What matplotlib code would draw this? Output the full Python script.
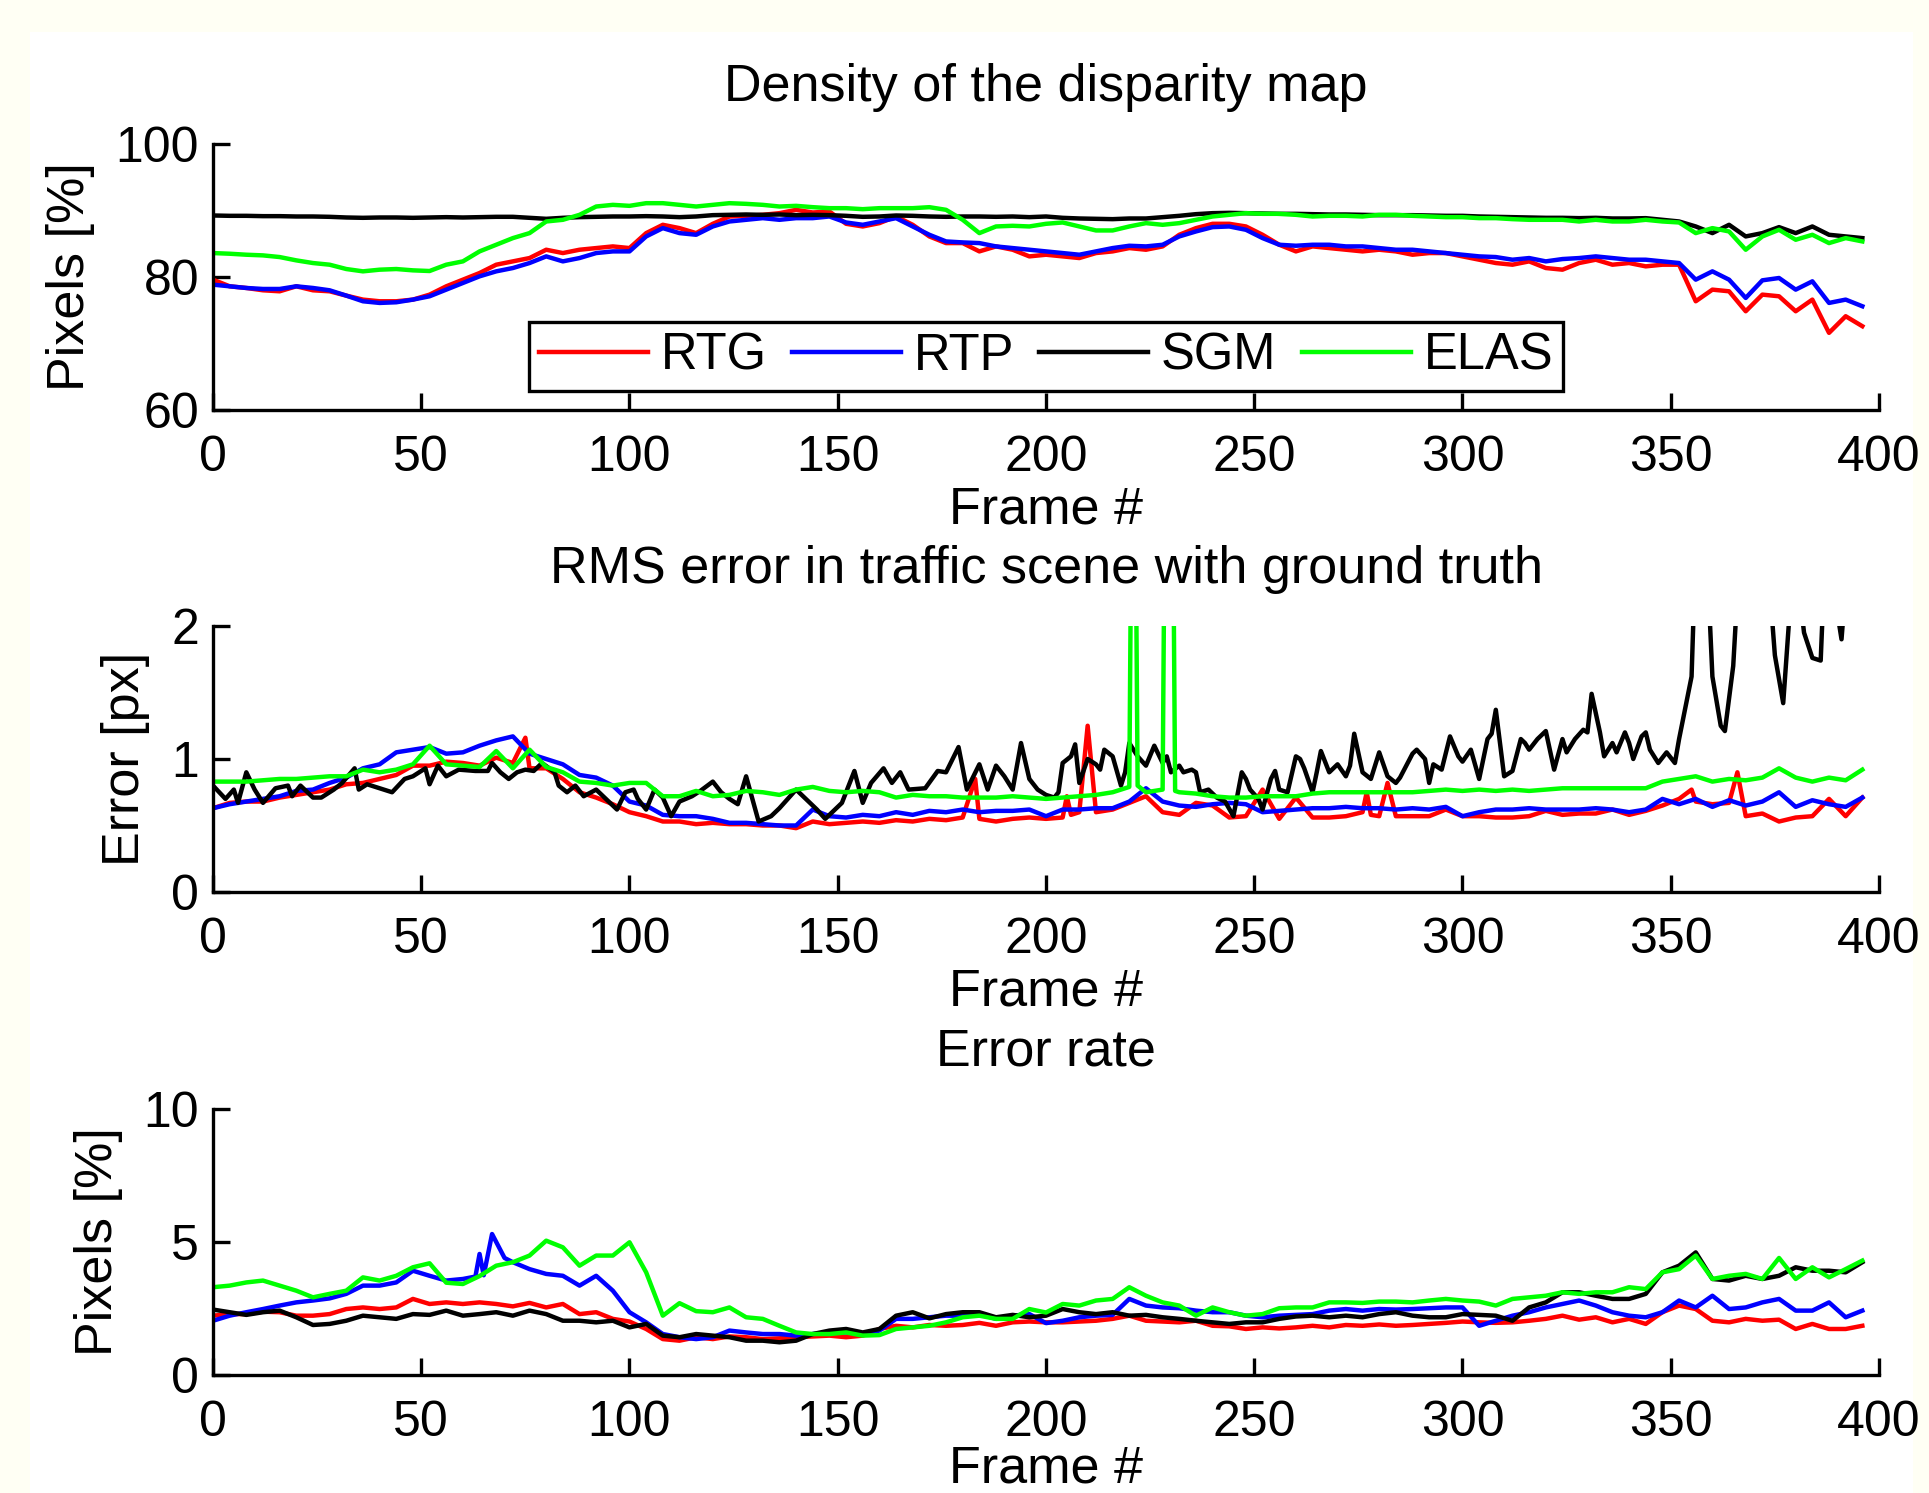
import numpy as np
import matplotlib
matplotlib.use('Agg')
import matplotlib.pyplot as plt
from matplotlib.patches import Rectangle

plt.rcParams['font.family'] = ['Liberation Sans', 'DejaVu Sans']

# ---------------- data ----------------
series_names = ['RTG', 'RTP', 'SGM', 'ELAS']
series_colors = ['#ff0000', '#0000ff', '#000000', '#00ff00']
xticks = [0, 50, 100, 150, 200, 250, 300, 350, 400]

frames = list(range(0, 397, 4))

# Panel 1: density of the disparity map [%]
dens_rtg = [79.6, 78.6, 78.35, 78.0, 77.85, 78.6, 78.0, 77.85, 77.2, 76.6,
            76.35, 76.35, 76.6, 77.35, 78.6, 79.6, 80.6, 81.85, 82.35, 82.85,
            84.1, 83.6, 84.1, 84.35, 84.6, 84.35, 86.6, 87.85, 87.35, 86.6,
            88.0, 89.1, 89.2, 89.35, 89.6, 90.1, 89.7, 89.85, 88.0, 87.6,
            88.1, 89.1, 87.85, 86.1, 85.1, 85.1, 83.85, 84.6, 84.1, 83.1,
            83.35, 83.1, 82.85, 83.6, 83.85, 84.35, 84.1, 84.6, 86.35, 87.35,
            88.0, 88.0, 87.6, 86.35, 84.85, 83.85, 84.6, 84.35, 84.1, 83.85,
            84.1, 83.85, 83.35, 83.6, 83.6, 83.1, 82.6, 82.1, 81.85, 82.35,
            81.35, 81.1, 82.1, 82.6, 81.85, 82.1, 81.6, 81.85, 81.85, 76.35,
            78.1, 77.85, 74.85, 77.35, 77.1, 74.85, 76.6, 71.6, 74.1, 72.6]
dens_rtp = [78.85, 78.6, 78.35, 78.2, 78.2, 78.6, 78.35, 78.0, 77.2, 76.35,
            76.1, 76.2, 76.6, 77.1, 78.1, 79.1, 80.1, 80.85, 81.35, 82.1,
            83.1, 82.35, 82.85, 83.6, 83.85, 83.85, 86.1, 87.35, 86.6, 86.35,
            87.6, 88.35, 88.6, 88.85, 88.6, 88.85, 88.85, 89.1, 88.2, 87.85,
            88.35, 88.85, 87.6, 86.35, 85.35, 85.2, 85.1, 84.6, 84.35, 84.1,
            83.85, 83.6, 83.35, 83.85, 84.35, 84.7, 84.6, 84.85, 86.1, 86.85,
            87.5, 87.6, 87.1, 85.85, 84.85, 84.7, 84.85, 84.85, 84.6, 84.6,
            84.35, 84.1, 84.1, 83.85, 83.6, 83.35, 83.1, 83.0, 82.6, 82.85,
            82.35, 82.7, 82.85, 83.1, 82.85, 82.6, 82.6, 82.35, 82.1, 79.6,
            80.85, 79.6, 76.85, 79.5, 79.85, 78.1, 79.35, 76.1, 76.6, 75.6]
dens_sgm = [89.25, 89.2, 89.2, 89.15, 89.15, 89.1, 89.1, 89.05, 88.95, 88.9,
            88.95, 88.95, 88.9, 88.95, 89.0, 88.95, 89.0, 89.05, 89.05, 88.9,
            88.75, 88.9, 89.0, 89.05, 89.1, 89.1, 89.15, 89.1, 89.0, 89.1,
            89.3, 89.35, 89.4, 89.35, 89.4, 89.3, 89.35, 89.3, 89.2, 89.05,
            89.1, 89.25, 89.2, 89.1, 89.05, 89.1, 89.1, 89.05, 89.1, 89.0,
            89.1, 88.9, 88.8, 88.75, 88.7, 88.8, 88.8, 89.0, 89.2, 89.45,
            89.6, 89.65, 89.6, 89.55, 89.5, 89.5, 89.45, 89.4, 89.4, 89.35,
            89.3, 89.3, 89.3, 89.25, 89.2, 89.2, 89.1, 89.05, 89.0, 88.95,
            88.9, 88.9, 88.85, 88.9, 88.8, 88.8, 88.85, 88.6, 88.35, 87.6,
            86.6, 87.85, 86.1, 86.6, 87.5, 86.6, 87.6, 86.35, 86.1, 85.85]
dens_elas = [83.6, 83.5, 83.35, 83.25, 83.0, 82.5, 82.1, 81.85, 81.2, 80.85,
             81.1, 81.2, 81.0, 80.9, 81.85, 82.35, 83.85, 84.85, 85.85, 86.6,
             88.35, 88.6, 89.35, 90.6, 90.85, 90.7, 91.1, 91.1, 90.85, 90.6,
             90.85, 91.1, 91.0, 90.85, 90.6, 90.7, 90.5, 90.35, 90.35, 90.2,
             90.35, 90.35, 90.35, 90.5, 90.1, 88.6, 86.6, 87.6, 87.7, 87.6,
             88.0, 88.2, 87.6, 87.0, 87.0, 87.6, 88.1, 87.85, 88.1, 88.6,
             89.1, 89.35, 89.6, 89.5, 89.5, 89.35, 89.1, 89.2, 89.2, 89.1,
             89.35, 89.35, 89.2, 89.1, 89.0, 89.0, 88.85, 88.85, 88.7, 88.6,
             88.6, 88.6, 88.35, 88.6, 88.35, 88.35, 88.6, 88.35, 88.2, 86.6,
             87.35, 86.85, 84.1, 86.1, 87.1, 85.6, 86.35, 85.1, 85.85, 85.35]

# Panel 2: RMS error [px]
rms_rtg_frames = [0, 4, 8, 12, 16, 20, 24, 28, 32, 36, 40, 44, 48, 52, 56, 60, 64, 68, 72,
                  75, 76, 80, 84, 88, 92, 96, 100, 104, 108, 112, 116, 120, 124, 128, 132,
                  136, 140, 144, 148, 152, 156, 160, 164, 168, 172, 176, 180, 183, 184, 188,
                  192, 196, 200, 204, 205, 206, 208, 210, 212, 216, 220, 224, 228, 232, 236,
                  240, 244, 248, 252, 256, 260, 264, 268, 272, 276, 277, 278, 280, 282, 284,
                  288, 292, 296, 300, 304, 308, 312, 316, 320, 324, 328, 332, 336, 340, 344,
                  348, 352, 355, 356, 360, 364, 366, 368, 372, 376, 380, 384, 388, 392, 396]
rms_rtg = [0.63, 0.67, 0.68, 0.68, 0.71, 0.73, 0.75, 0.77, 0.81, 0.82, 0.85, 0.88, 0.95, 0.95,
           0.98, 0.97, 0.95, 1.01, 0.97,
           1.16, 0.93, 0.93, 0.85, 0.75, 0.71, 0.66, 0.60, 0.57, 0.53, 0.53, 0.51, 0.52, 0.51,
           0.51, 0.50, 0.50, 0.48, 0.53, 0.51, 0.52, 0.53, 0.52, 0.54, 0.53, 0.55, 0.54, 0.56,
           0.85, 0.55, 0.53, 0.55, 0.56, 0.55, 0.56, 0.72, 0.58, 0.60, 1.25, 0.60, 0.62, 0.67,
           0.72, 0.60, 0.58, 0.67, 0.65, 0.56, 0.57, 0.77, 0.55, 0.71, 0.56, 0.56, 0.57, 0.60,
           0.75, 0.58, 0.57, 0.82, 0.57, 0.57, 0.57, 0.62, 0.57, 0.57, 0.56, 0.56, 0.57, 0.61,
           0.58, 0.59, 0.59, 0.62, 0.58, 0.61, 0.65, 0.70, 0.77, 0.68, 0.66, 0.67, 0.90, 0.57,
           0.59, 0.53, 0.56, 0.57, 0.70, 0.57, 0.71]
rms_rtp = [0.63, 0.66, 0.68, 0.70, 0.72, 0.76, 0.77, 0.82, 0.86, 0.93,
           0.96, 1.05, 1.07, 1.09, 1.04, 1.05, 1.10, 1.14, 1.17, 1.04,
           1.00, 0.96, 0.88, 0.86, 0.80, 0.68, 0.65, 0.58, 0.57, 0.57,
           0.55, 0.52, 0.52, 0.51, 0.50, 0.50, 0.62, 0.57, 0.56, 0.58,
           0.57, 0.60, 0.58, 0.61, 0.60, 0.62, 0.60, 0.61, 0.61, 0.62,
           0.57, 0.62, 0.62, 0.63, 0.63, 0.68, 0.78, 0.68, 0.65, 0.64,
           0.66, 0.67, 0.66, 0.60, 0.61, 0.62, 0.63, 0.63, 0.64, 0.63,
           0.63, 0.62, 0.63, 0.62, 0.64, 0.57, 0.60, 0.62, 0.62, 0.63,
           0.62, 0.62, 0.62, 0.63, 0.62, 0.60, 0.62, 0.70, 0.66, 0.70,
           0.64, 0.69, 0.65, 0.68, 0.75, 0.64, 0.69, 0.66, 0.64, 0.71]
rms_sgm_frames = [0, 3, 5, 6, 8, 10, 12, 15, 18, 19, 21, 24, 26, 29, 31, 34, 35, 37, 40, 43,
                  46, 48, 51, 52, 54, 56, 59, 63, 66, 67, 69, 71, 73, 75, 77, 79, 82, 83, 85, 87,
                  89, 92, 95, 97, 99, 101, 102, 104, 106, 108, 110, 112, 115, 117, 120, 122,
                  124, 126, 128, 131, 134, 136, 140, 145, 147, 151, 154, 156, 158, 161, 163,
                  165, 167, 171, 174, 176, 179, 181, 184, 186, 188, 190, 192, 194, 196, 198,
                  200, 202, 203, 204, 206, 207, 208, 210, 212, 213, 214, 216, 218, 219, 220,
                  222, 224, 226, 228, 229, 230, 232, 233, 235, 236, 237, 239, 241, 243, 245,
                  247, 248, 249, 251, 252, 254, 255, 256, 258, 260, 261, 262, 264, 265, 266,
                  268, 270, 272, 273, 274, 276, 278, 280, 282, 284, 285, 288, 289, 291, 292,
                  293, 295, 297, 299, 300, 302, 304, 306, 307, 308, 310, 312, 314, 315, 316,
                  318, 320, 322, 324, 325, 327, 329, 330, 331, 333, 334, 336, 337, 339, 340,
                  341, 343, 344, 345, 347, 349, 351, 352, 355, 356, 358, 360, 362, 363, 365,
                  367, 370, 373, 375, 377, 379, 380, 382, 384, 386, 387, 389, 390, 391, 392,
                  394, 396]
rms_sgm = [0.80, 0.70, 0.77, 0.67, 0.90, 0.77, 0.67, 0.78, 0.80, 0.72, 0.80, 0.71, 0.71, 0.77,
           0.82, 0.93, 0.77, 0.81, 0.78, 0.75,
           0.85, 0.87, 0.93, 0.81, 0.95, 0.87, 0.92, 0.91, 0.91, 0.97, 0.90, 0.85, 0.90, 0.92,
           0.91, 0.97, 0.90, 0.80, 0.75, 0.80,
           0.72, 0.77, 0.68, 0.62, 0.75, 0.77, 0.70, 0.62, 0.77, 0.71, 0.57, 0.68, 0.72, 0.76,
           0.83, 0.75,
           0.70, 0.66, 0.87, 0.53, 0.57, 0.63, 0.77, 0.62, 0.55, 0.67, 0.91, 0.67, 0.82, 0.93,
           0.82,
           0.90, 0.77, 0.78, 0.91, 0.90, 1.09, 0.77, 0.96, 0.77, 0.95, 0.87, 0.77, 1.12, 0.85,
           0.77,
           0.73, 0.71, 0.75, 0.97, 1.02, 1.11, 0.82, 1.00, 0.96, 0.92, 1.07, 1.02, 0.80, 0.90,
           1.12,
           1.02, 0.95, 1.10, 0.97, 1.02, 0.90, 0.95, 0.90, 0.92, 0.90, 0.75, 0.77, 0.71, 0.68,
           0.57,
           0.90, 0.85, 0.77, 0.70, 0.62, 0.85, 0.91, 0.77, 0.75, 1.02, 1.00, 0.93, 0.75, 0.90,
           1.06,
           0.90, 0.96, 0.87, 0.95, 1.19, 0.90, 0.85, 1.05, 0.87, 0.82, 0.86, 1.04, 1.07, 1.00,
           0.82,
           0.96, 0.92, 1.17, 1.02, 0.98, 1.07, 0.85, 1.15, 1.19, 1.37, 0.87, 0.91, 1.15, 1.12,
           1.07,
           1.15, 1.21, 0.92, 1.15, 1.05, 1.15, 1.22, 1.20, 1.49, 1.20, 1.02, 1.12, 1.05, 1.20,
           1.12,
           1.00, 1.17, 1.20, 1.07, 0.97, 1.05, 0.97, 1.15, 1.62, 2.6, 3.0, 1.62, 1.25, 1.21,
           1.7,
           2.8, 3.0, 2.6, 1.78, 1.42, 2.3, 2.5, 1.95, 1.76, 1.74, 2.5, 3.0, 2.1, 1.9, 2.3,
           3.0, 3.0]
rms_elas_frames = list(range(0, 217, 4)) + [220, 221, 222, 224, 228, 229, 230, 231, 232] + \
    list(range(236, 397, 4))
rms_elas = [0.83, 0.83, 0.83, 0.84, 0.85, 0.85, 0.86, 0.87, 0.87, 0.92,
            0.90, 0.92, 0.96, 1.10, 0.96, 0.95, 0.94, 1.06, 0.93, 1.07,
            0.94, 0.90, 0.83, 0.82, 0.80, 0.82, 0.82, 0.72, 0.72, 0.76,
            0.72, 0.73, 0.76, 0.75, 0.73, 0.77, 0.79, 0.76, 0.75, 0.76,
            0.75, 0.71, 0.73, 0.72, 0.72, 0.71, 0.71, 0.71, 0.72, 0.71,
            0.70, 0.71, 0.72, 0.73, 0.75,
            0.79, 5.0, 0.80, 0.75, 0.77, 5.0, 5.0, 0.76, 0.75,
            0.74, 0.72, 0.71, 0.71, 0.72, 0.72, 0.72, 0.74, 0.75, 0.75,
            0.75, 0.75, 0.75, 0.75, 0.76, 0.77, 0.76, 0.77, 0.76, 0.77,
            0.76, 0.77, 0.78, 0.78, 0.78, 0.78, 0.78, 0.78, 0.83, 0.85,
            0.87, 0.83, 0.85, 0.84, 0.86, 0.93, 0.86, 0.83, 0.86, 0.84,
            0.92]

# Panel 3: error rate [%]
err_rtg = [2.23, 2.29, 2.29, 2.38, 2.36, 2.23, 2.23, 2.29, 2.48, 2.54,
           2.48, 2.54, 2.86, 2.67, 2.73, 2.67, 2.73, 2.67, 2.58, 2.71,
           2.54, 2.67, 2.29, 2.36, 2.11, 2.01, 1.73, 1.35, 1.29, 1.42,
           1.35, 1.45, 1.42, 1.35, 1.38, 1.42, 1.45, 1.48, 1.42, 1.48,
           1.73, 1.85, 1.79, 1.88, 1.85, 1.88, 1.96, 1.85, 1.98, 2.01,
           1.98, 1.98, 2.01, 2.04, 2.11, 2.23, 2.04, 2.01, 1.98, 2.04,
           1.85, 1.83, 1.73, 1.79, 1.75, 1.79, 1.85, 1.79, 1.88, 1.85,
           1.90, 1.85, 1.88, 1.92, 1.96, 2.01, 1.98, 1.96, 1.98, 2.04,
           2.11, 2.23, 2.08, 2.17, 1.98, 2.11, 1.92, 2.36, 2.61, 2.48,
           2.04, 1.98, 2.11, 2.04, 2.08, 1.73, 1.92, 1.73, 1.73, 1.85]
err_rtp_frames = list(range(0, 61, 4)) + [63, 64, 65, 67, 70] + list(range(72, 397, 4))
err_rtp = [2.04, 2.23, 2.36, 2.48, 2.61, 2.73, 2.80, 2.88, 3.05, 3.36,
           3.36, 3.48, 3.92, 3.73, 3.55, 3.61,
           3.70, 4.55, 3.75, 5.30, 4.40,
           4.24, 3.98, 3.80, 3.73, 3.36, 3.73, 3.17, 2.36, 1.98, 1.54,
           1.42, 1.35, 1.42, 1.67, 1.60, 1.54, 1.54, 1.48, 1.54, 1.60,
           1.60, 1.54, 1.67, 2.11, 2.11, 2.17, 2.23, 2.23, 2.29, 2.11,
           2.23, 2.29, 1.95, 2.04, 2.17, 2.23, 2.26, 2.86, 2.61, 2.54,
           2.51, 2.42, 2.36, 2.36, 2.23, 2.17, 2.23, 2.26, 2.29, 2.42,
           2.48, 2.42, 2.48, 2.46, 2.48, 2.51, 2.54, 2.54, 1.85, 2.04,
           2.23, 2.36, 2.54, 2.67, 2.80, 2.61, 2.36, 2.23, 2.17, 2.36,
           2.80, 2.54, 2.98, 2.48, 2.54, 2.73, 2.86, 2.42, 2.42, 2.73,
           2.17, 2.42]
err_sgm = [2.46, 2.36, 2.26, 2.36, 2.42, 2.17, 1.88, 1.92, 2.04, 2.23,
           2.17, 2.11, 2.29, 2.26, 2.42, 2.23, 2.29, 2.36, 2.23, 2.42,
           2.29, 2.04, 2.04, 1.98, 2.04, 1.79, 1.92, 1.48, 1.42, 1.54,
           1.48, 1.42, 1.29, 1.29, 1.23, 1.29, 1.54, 1.67, 1.73, 1.60,
           1.73, 2.23, 2.36, 2.13, 2.29, 2.36, 2.36, 2.17, 2.26, 2.17,
           2.23, 2.48, 2.36, 2.29, 2.36, 2.23, 2.26, 2.17, 2.11, 2.04,
           1.98, 1.92, 1.98, 1.98, 2.11, 2.20, 2.23, 2.17, 2.23, 2.17,
           2.29, 2.36, 2.23, 2.17, 2.17, 2.29, 2.26, 2.23, 2.04, 2.54,
           2.73, 3.11, 3.11, 2.98, 2.86, 2.86, 3.05, 3.86, 4.11, 4.61,
           3.61, 3.55, 3.73, 3.61, 3.73, 4.05, 3.92, 3.92, 3.86, 4.24]
err_elas = [3.30, 3.36, 3.48, 3.55, 3.36, 3.17, 2.92, 3.05, 3.17, 3.67,
            3.55, 3.73, 4.05, 4.20, 3.47, 3.42, 3.72, 4.11, 4.24, 4.49,
            5.05, 4.80, 4.11, 4.49, 4.49, 4.99, 3.86, 2.23, 2.70, 2.40,
            2.36, 2.54, 2.17, 2.11, 1.85, 1.60, 1.54, 1.54, 1.60, 1.48,
            1.50, 1.73, 1.79, 1.85, 1.98, 2.17, 2.23, 2.11, 2.11, 2.48,
            2.35, 2.67, 2.61, 2.80, 2.86, 3.30, 2.98, 2.73, 2.61, 2.23,
            2.54, 2.36, 2.23, 2.29, 2.51, 2.54, 2.54, 2.73, 2.73, 2.71,
            2.76, 2.76, 2.73, 2.80, 2.86, 2.80, 2.76, 2.61, 2.86, 2.92,
            2.98, 3.11, 3.05, 3.11, 3.11, 3.30, 3.23, 3.86, 3.98, 4.49,
            3.61, 3.73, 3.80, 3.61, 4.40, 3.61, 4.05, 3.67, 3.98, 4.30]

# ---------------- figure ----------------
W, H = 1929, 1493
fig = plt.figure(figsize=(W / 100, H / 100), dpi=100, facecolor='#fffff4')
fig.add_artist(Rectangle((30 / W, 0), (1913 - 30) / W, (H - 32) / H,
                         transform=fig.transFigure, facecolor='white',
                         edgecolor='none', zorder=-10))

FS = 36      # tick labels
FT = 37.5    # titles, axis labels
FL = 36.5    # legend
LW = 3.2
L, AW, AH = 213 / W, 1666 / W, 266 / H
ax1 = fig.add_axes([L, 1 - 410 / H, AW, AH])
ax2 = fig.add_axes([L, 1 - 892 / H, AW, AH])
ax3 = fig.add_axes([L, 1 - 1375 / H, AW, AH])


def style(ax, ylim, yticks, title, ylabel, xlabelpad=3.5):
    ax.set_facecolor('none')
    ax.set_xlim(0, 400)
    ax.set_ylim(*ylim)
    ax.set_xticks(xticks)
    ax.set_yticks(yticks)
    for s in ('top', 'right'):
        ax.spines[s].set_visible(False)
    for s in ('left', 'bottom'):
        ax.spines[s].set_linewidth(2.4)
    ax.tick_params(direction='in', length=12, width=2.4, labelsize=FS)
    ax.tick_params(axis='x', pad=18)
    ax.tick_params(axis='y', pad=10)
    ax.set_title(title, fontsize=FT, pad=31)
    ax.set_xlabel('Frame #', fontsize=FT, labelpad=xlabelpad)
    ax.set_ylabel(ylabel, fontsize=FT, labelpad=15)


# top panel
for y, name, c in zip([dens_rtg, dens_rtp, dens_sgm, dens_elas], series_names, series_colors):
    ax1.plot(frames, y, color=c, lw=LW, label=name)
style(ax1, (60, 100), [60, 80, 100], 'Density of the disparity map', 'Pixels [%]')
leg = ax1.legend(ncol=4, loc='lower center', bbox_to_anchor=(0.5, 0.071), fontsize=FL,
                 frameon=True, fancybox=False, edgecolor='black', framealpha=1,
                 handlelength=2.15, handletextpad=0.25, columnspacing=0.5,
                 borderpad=0.2, borderaxespad=0)
leg.get_frame().set_linewidth(2.4)
for ln in leg.get_lines():
    ln.set_linewidth(LW)

# middle panel
ax2.plot(rms_rtg_frames, rms_rtg, color=series_colors[0], lw=LW)
ax2.plot(frames, rms_rtp, color=series_colors[1], lw=LW)
ax2.plot(rms_sgm_frames, rms_sgm, color=series_colors[2], lw=LW)
ax2.plot(rms_elas_frames, rms_elas, color=series_colors[3], lw=LW)
style(ax2, (0, 2), [0, 1, 2], 'RMS error in traffic scene with ground truth', 'Error [px]')

# bottom panel
ax3.plot(frames, err_rtg, color=series_colors[0], lw=LW)
ax3.plot(err_rtp_frames, err_rtp, color=series_colors[1], lw=LW)
ax3.plot(frames, err_sgm, color=series_colors[2], lw=LW)
ax3.plot(frames, err_elas, color=series_colors[3], lw=LW)
style(ax3, (0, 10), [0, 5, 10], 'Error rate', 'Pixels [%]', xlabelpad=-1)

fig.savefig('out.png', dpi=100, facecolor=fig.get_facecolor())
